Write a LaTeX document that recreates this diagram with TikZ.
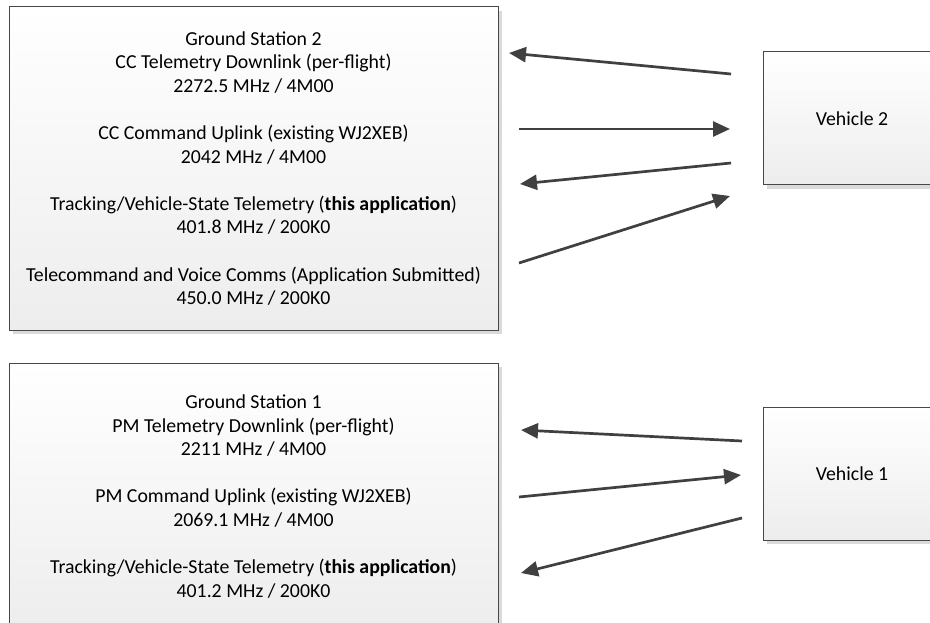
\documentclass[tikz,border=0pt]{standalone}
\usepackage{fontspec}
\setmainfont{Carlito}
\usetikzlibrary{arrows.meta,calc}
\definecolor{bordc}{HTML}{484848}
\definecolor{boxbot}{HTML}{EDEDED}
\definecolor{shadc}{HTML}{DADADA}
\definecolor{arrc}{HTML}{404040}
\tikzset{
  boxstyle/.style={draw=bordc, line width=1pt, top color=white, bottom color=boxbot,
    inner sep=0pt, align=center, font=\fontsize{19.8}{23.6}\selectfont},
  link/.style={draw=arrc, line width=2.7pt, -{Triangle[length=17pt,width=15pt]}},
}
\begin{document}
\begin{tikzpicture}[x=1pt,y=-1pt]
\useasboundingbox (0,0) rectangle (930,623);
\clip (0,0) rectangle (930,623);
\fill[white] (0,0) rectangle (930,623);
% shadows
\fill[shadc] (13,11) rectangle (502,334);
\fill[shadc] (13,367) rectangle (502,640);
\fill[shadc] (767,56) rectangle (945,189);
\fill[shadc] (767,411) rectangle (945,544);
% boxes
\node[boxstyle, minimum width=489pt, minimum height=323pt] (gs2) at (253.5,168.5)
 {Ground Station 2\\
  CC Telemetry Downlink (per-flight)\\
  2272.5 MHz / 4M00\\[23.6pt]
  CC Command Uplink (existing WJ2XEB)\\
  2042 MHz / 4M00\\[23.6pt]
  Tracking/Vehicle-State Telemetry (\textbf{this application})\\
  401.8 MHz / 200K0\\[23.6pt]
  Telecommand and Voice Comms (Application Submitted)\\
  450.0 MHz / 200K0};
\node[boxstyle, minimum width=489pt, minimum height=267pt] (gs1) at (253.5,496.5)
 {Ground Station 1\\
  PM Telemetry Downlink (per-flight)\\
  2211 MHz / 4M00\\[23.6pt]
  PM Command Uplink (existing WJ2XEB)\\
  2069.1 MHz / 4M00\\[23.6pt]
  Tracking/Vehicle-State Telemetry (\textbf{this application})\\
  401.2 MHz / 200K0};
\node[boxstyle, minimum width=178pt, minimum height=133pt] (v2) at (852,118.5) {Vehicle 2};
\node[boxstyle, minimum width=178pt, minimum height=133pt] (v1) at (852,473.5) {Vehicle 1};
% connector end points
\coordinate (a1s) at (731,74);  \coordinate (a1e) at (509,53);
\coordinate (a2s) at (519,129); \coordinate (a2e) at (730,129);
\coordinate (a3s) at (731,163); \coordinate (a3e) at (520,184);
\coordinate (a4s) at (519,263); \coordinate (a4e) at (730,196);
\coordinate (b1s) at (742,441); \coordinate (b1e) at (521,430);
\coordinate (b2s) at (519,497); \coordinate (b2e) at (741,475);
\coordinate (b3s) at (742,518); \coordinate (b3e) at (521,573);
\draw[link] (a1s) -- (a1e);
\draw[link] (a2s) -- (a2e);
\draw[link] (a3s) -- (a3e);
\draw[link] (a4s) -- (a4e);
\draw[link] (b1s) -- (b1e);
\draw[link] (b2s) -- (b2e);
\draw[link] (b3s) -- (b3e);
\end{tikzpicture}
\end{document}
